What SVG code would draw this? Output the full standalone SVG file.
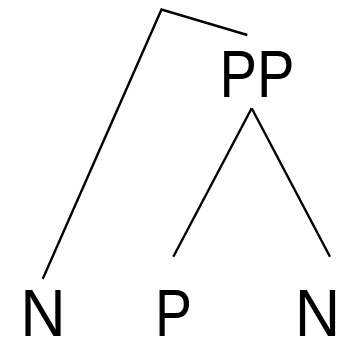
<svg xmlns="http://www.w3.org/2000/svg" width="338" height="342" viewBox="0 0 338 342">
<style>
.lbl{font-family:"Liberation Sans",Arial,sans-serif;font-size:66px;fill:#000;text-anchor:middle}
.edge{stroke:#000;stroke-width:2.4;fill:none;stroke-linecap:butt}
</style>
<rect width="338" height="342" fill="#fff"/>
<g id="connectors">
<polyline class="edge" points="247.3,35 161.5,9.5 42.7,279"/>
<line class="edge" x1="251.7" y1="108.3" x2="173.3" y2="256.7"/>
<line class="edge" x1="251.7" y1="108.3" x2="330" y2="256.7"/>
</g>
<g id="node-PP"><text class="lbl" x="257" y="97" textLength="75" lengthAdjust="spacingAndGlyphs">PP</text></g>
<g id="node-N1"><text class="lbl" x="43" y="336" textLength="45.5" lengthAdjust="spacingAndGlyphs">N</text></g>
<g id="node-P"><text class="lbl" x="173.5" y="336" textLength="37" lengthAdjust="spacingAndGlyphs">P</text></g>
<g id="node-N2"><text class="lbl" x="317.5" y="336" textLength="45.5" lengthAdjust="spacingAndGlyphs">N</text></g>
</svg>
